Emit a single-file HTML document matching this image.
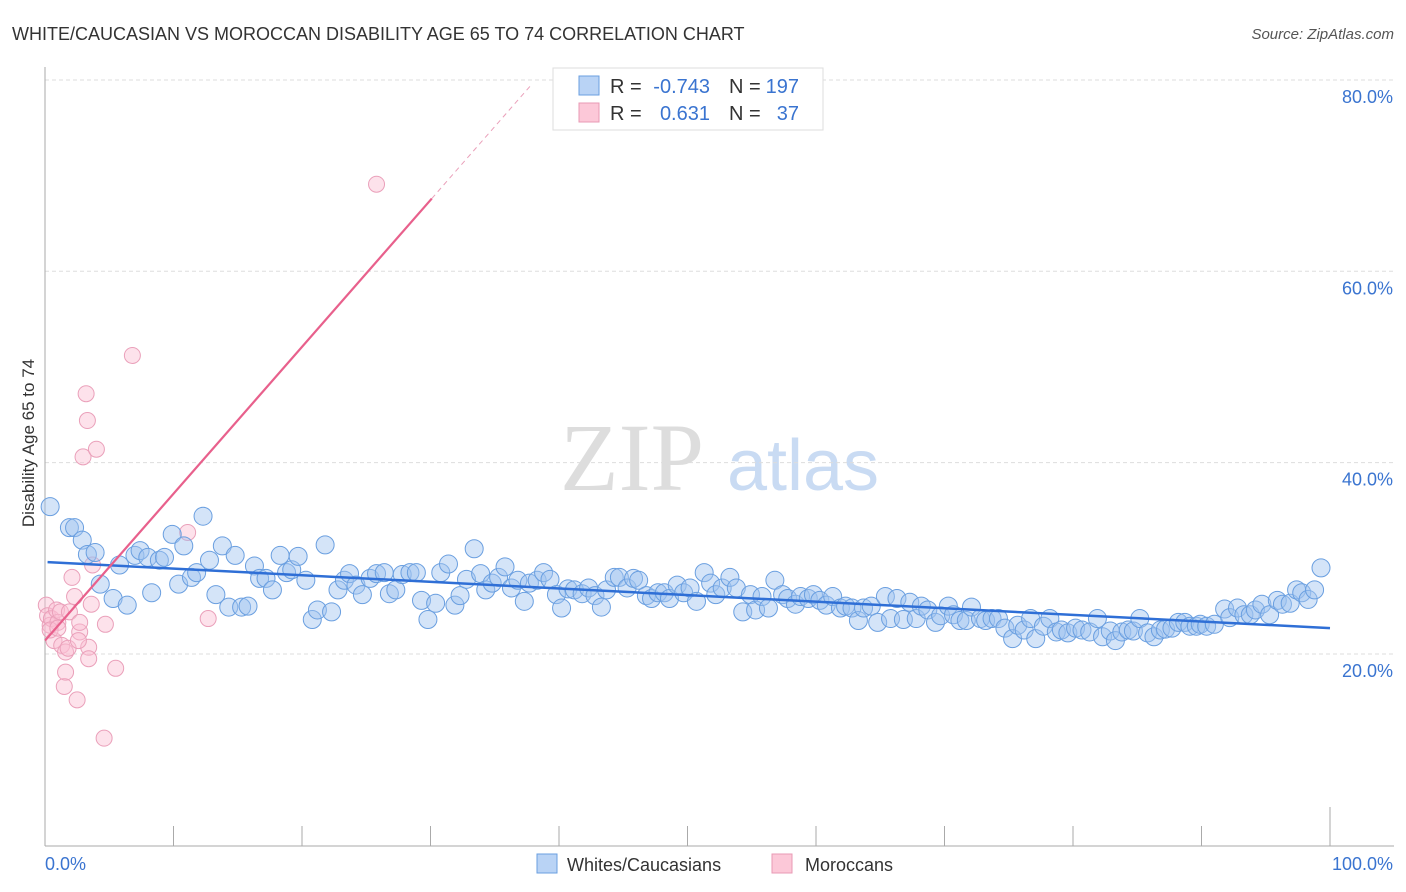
<!DOCTYPE html>
<html><head><meta charset="utf-8"><style>
body{margin:0;background:#fff;font-family:"Liberation Sans",sans-serif;}
svg{display:block}
</style></head><body>
<svg width="1406" height="892" viewBox="0 0 1406 892" xmlns="http://www.w3.org/2000/svg">
<text x="12" y="40" font-size="18" fill="#333">WHITE/CAUCASIAN VS MOROCCAN DISABILITY AGE 65 TO 74 CORRELATION CHART</text>
<text x="1394" y="39" font-size="15" fill="#555" font-style="italic" text-anchor="end">Source: ZipAtlas.com</text>
<g>
<text x="632" y="490" font-size="96" fill="#ddd" font-family="Liberation Serif,serif" text-anchor="middle">ZIP</text>
<text x="803" y="490" font-size="72" fill="#c9dbf3" text-anchor="middle">atlas</text>
</g>
<g id="grid"></g>
<g id="axes"></g>
<g id="pink"></g>
<g id="blue"></g>
<g id="lines"></g>
<text x="12" y="0" transform="translate(34,455) rotate(-90)" font-size="17" fill="#333" text-anchor="middle">Disability Age 65 to 74</text>
<g>
<rect x="553" y="68" width="270" height="62" fill="#fff" stroke="#ddd"/>
<rect x="579" y="76" width="20" height="19" fill="#b9d3f5" stroke="#6a9fe0"/>
<rect x="579" y="103" width="20" height="19" fill="#fcc8d8" stroke="#e89ab4"/>
<g font-size="20" fill="#333">
<text x="610" y="93">R =</text>
<text x="710" y="93" fill="#3a74d0" text-anchor="end">-0.743</text>
<text x="729" y="93">N =</text>
<text x="799" y="93" fill="#3a74d0" text-anchor="end">197</text>
<text x="610" y="120">R =</text>
<text x="710" y="120" fill="#3a74d0" text-anchor="end">0.631</text>
<text x="729" y="120">N =</text>
<text x="799" y="120" fill="#3a74d0" text-anchor="end">37</text>
</g>
</g>
<g>
<rect x="537" y="854" width="20" height="19" fill="#b9d3f5" stroke="#6a9fe0"/>
<text x="567" y="871" font-size="18" fill="#333">Whites/Caucasians</text>
<rect x="772" y="854" width="20" height="19" fill="#fcc8d8" stroke="#e89ab4"/>
<text x="805" y="871" font-size="18" fill="#333">Moroccans</text>
</g>
</svg>
<script>
const blueX=[0.4,1.9,2.3,2.9,3.3,3.9,4.3,5.3,5.8,6.4,7.0,7.4,8.0,8.3,8.9,9.3,9.9,10.4,10.8,11.4,11.8,12.3,12.8,13.3,13.8,14.3,14.8,15.3,15.8,16.3,16.7,17.2,17.7,18.3,18.8,19.2,19.7,20.3,20.8,21.2,21.8,22.3,22.8,23.3,23.7,24.2,24.7,25.3,25.8,26.4,26.8,27.3,27.8,28.4,28.9,29.3,29.8,30.4,30.8,31.4,31.9,32.3,32.8,33.4,33.9,34.3,34.8,35.3,35.8,36.3,36.8,37.3,37.7,38.3,38.8,39.3,39.8,40.2,40.7,41.2,41.8,42.3,42.8,43.3,43.7,44.3,44.7,45.3,45.8,46.2,46.8,47.2,47.7,48.2,48.6,49.2,49.7,50.2,50.7,51.3,51.8,52.2,52.7,53.3,53.8,54.3,54.9,55.3,55.8,56.3,56.8,57.4,57.8,58.4,58.8,59.4,59.8,60.3,60.8,61.3,61.9,62.3,62.8,63.3,63.7,64.3,64.8,65.4,65.8,66.3,66.8,67.3,67.8,68.2,68.7,69.3,69.7,70.3,70.7,71.2,71.7,72.1,72.8,73.2,73.7,74.2,74.7,75.3,75.7,76.2,76.7,77.1,77.7,78.2,78.7,79.1,79.6,80.2,80.7,81.3,81.9,82.3,82.9,83.3,83.8,84.3,84.7,85.2,85.8,86.3,86.8,87.2,87.7,88.2,88.7,89.1,89.6,89.9,90.4,91.0,91.8,92.2,92.8,93.3,93.8,94.2,94.7,95.3,95.9,96.3,96.9,97.4,97.8,98.3,98.8,99.3];
const blueY=[35.4,33.2,33.2,31.9,30.4,30.6,27.3,25.8,29.3,25.1,30.3,30.8,30.1,26.4,29.8,30.1,32.5,27.3,31.3,28.0,28.5,34.4,29.8,26.2,31.3,24.9,30.3,24.9,25.0,29.2,27.9,27.9,26.7,30.3,28.5,28.8,30.2,27.7,23.6,24.6,31.4,24.4,26.7,27.7,28.4,27.2,26.2,27.9,28.4,28.5,26.3,26.7,28.3,28.5,28.5,25.6,23.6,25.3,28.5,29.4,25.1,26.1,27.8,31.0,28.4,26.7,27.4,28.0,29.1,26.9,27.7,25.5,27.4,27.7,28.5,27.8,26.2,24.8,26.8,26.7,26.3,26.9,26.1,24.9,26.7,28.0,28.0,26.9,27.9,27.7,26.1,25.8,26.4,26.4,25.8,27.2,26.4,26.9,25.5,28.5,27.4,26.2,26.9,28.0,26.9,24.4,26.2,24.6,26.0,24.8,27.7,26.2,25.8,25.2,26.0,25.8,26.2,25.6,25.1,26.0,24.8,25.0,24.8,23.5,24.8,25.0,23.3,26.0,23.7,25.8,23.6,25.4,23.7,25.0,24.6,23.3,24.0,25.0,24.1,23.5,23.5,24.9,23.7,23.5,23.7,23.7,22.7,21.6,23.0,22.5,23.7,21.6,22.9,23.7,22.3,22.5,22.2,22.7,22.5,22.3,23.7,21.8,22.4,21.4,22.3,22.5,22.4,23.7,22.2,21.8,22.5,22.6,22.7,23.3,23.3,22.9,22.9,23.1,22.9,23.1,24.7,23.8,24.8,24.1,24.1,24.6,25.2,24.1,25.6,25.2,25.3,26.7,26.4,25.7,26.7,29.0];
const pinkX=[0.1,0.2,0.4,0.5,0.7,0.9,1.0,1.2,1.3,1.5,1.6,1.6,1.8,1.9,2.1,2.3,2.5,2.7,2.7,2.96,3.2,3.3,3.4,3.4,3.6,3.7,4.0,4.6,4.7,5.5,6.8,11.1,12.7,25.8,0.4,2.6,1.0];
const pinkY=[25.1,24.0,23.0,23.7,21.4,24.6,23.3,24.4,20.9,16.6,18.1,20.2,20.6,24.4,28.0,26.0,15.2,22.3,23.3,40.6,47.2,44.4,20.7,19.5,25.2,29.3,41.4,11.2,23.1,18.5,51.2,32.7,23.7,69.1,22.5,21.4,22.7];
const yTicks=[20,40,60,80];
const blueTrend=[29.6,22.7];
const pinkTrend=[21.4,1.535];
const NS="http://www.w3.org/2000/svg";
const X0=45,X1=1330,Y0=845.3,YS=9.567;
function sx(v){return X0+(X1-X0)*v/100;}
function sy(v){return Y0-v*YS;}
function mk(tag,attrs,parent){const e=document.createElementNS(NS,tag);for(const k in attrs)e.setAttribute(k,attrs[k]);parent.appendChild(e);return e;}
const grid=document.getElementById('grid'),axes=document.getElementById('axes');
yTicks.forEach(t=>{
  const l=mk('line',{x1:45,x2:1394,y1:sy(t),y2:sy(t),stroke:'#ddd','stroke-dasharray':'4,3'},grid);
  
  
  const tx=mk('text',{x:1393,y:sy(t)+23,'font-size':18,fill:'#3a74d0','text-anchor':'end'},grid);
  tx.textContent=t.toFixed(1)+'%';
  
  
});
const ya=mk('line',{x1:45,x2:45,y1:67,y2:846,stroke:'#aaa'},axes);


const xa=mk('line',{x1:45,x2:1394,y1:846,y2:846,stroke:'#aaa'},axes);


for(let k=1;k<=10;k++){
  const tk=mk('line',{x1:sx(k*10),x2:sx(k*10),y1:k==10?807:826,y2:846,stroke:'#aaa'},axes);
  
  
}
const xl0=mk('text',{x:45,y:870,'font-size':18,fill:'#3a74d0'},axes);xl0.textContent='0.0%';


const xl1=mk('text',{x:1393,y:870,'font-size':18,fill:'#3a74d0','text-anchor':'end'},axes);xl1.textContent='100.0%';


const pg=document.getElementById('pink');
pinkX.forEach((v,i)=>{const c=mk('circle',{cx:sx(v),cy:sy(pinkY[i]),r:8,fill:'rgba(250,190,210,0.45)',stroke:'#eaa0ba','stroke-width':1},pg);

});
const bg=document.getElementById('blue');
blueX.forEach((v,i)=>{const c=mk('circle',{cx:sx(v),cy:sy(blueY[i]),r:9,fill:'rgba(160,196,240,0.45)',stroke:'#6a9fe0','stroke-width':1},bg);

});
const lg=document.getElementById('lines');
const bl=mk('line',{x1:sx(0.2),y1:sy(blueTrend[0]),x2:sx(100),y2:sy(blueTrend[1]),stroke:'#2f6fd6','stroke-width':2.5},lg);


const pe=30.1,pd=37.8;
const pl=mk('line',{x1:sx(0),y1:sy(pinkTrend[0]),x2:sx(pe),y2:sy(pinkTrend[0]+pinkTrend[1]*pe),stroke:'#e8608c','stroke-width':2.2},lg);


const pdl=mk('line',{x1:sx(pe),y1:sy(pinkTrend[0]+pinkTrend[1]*pe),x2:sx(pd),y2:sy(pinkTrend[0]+pinkTrend[1]*pd),stroke:'#eaa0ba','stroke-width':1,'stroke-dasharray':'5,4'},lg);


</script>
</body></html>
